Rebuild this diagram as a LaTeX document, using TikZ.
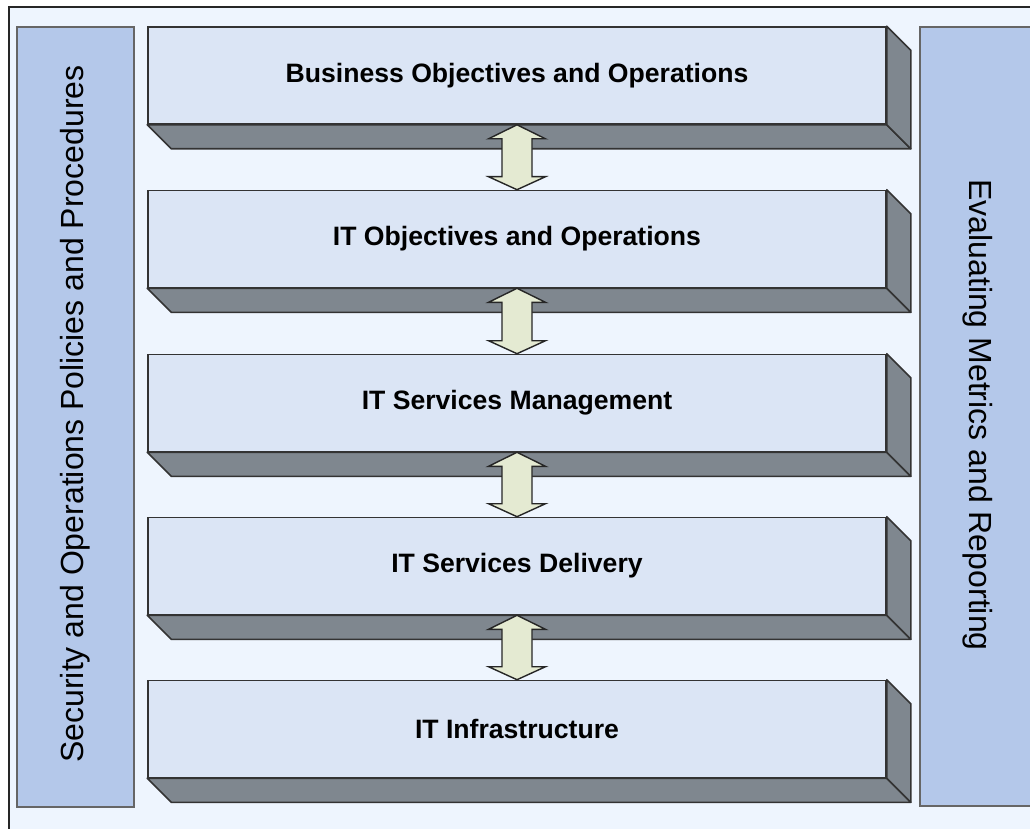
\documentclass[tikz,border=0pt]{standalone}
\usepackage{fontspec}
\setmainfont{Liberation Sans}
\usetikzlibrary{calc}

\definecolor{pagebg}{HTML}{EEF5FE}
\definecolor{panelblue}{HTML}{B4C8EA}
\definecolor{layerfront}{HTML}{DBE5F5}
\definecolor{layerside}{HTML}{7F878F}
\definecolor{linkfill}{HTML}{E4EAD2}

\begin{document}
\begin{tikzpicture}[x=1pt,y=-1pt,
  layer/.style={draw=black!80,line width=1.6pt,fill=layerfront,minimum width=738pt,minimum height=97pt,inner sep=0pt,font=\fontsize{26.6}{30}\selectfont\bfseries},
  side/.style={draw=black!80,line width=1.6pt,fill=layerside,line join=round},
  panel/.style={draw=black!60,line width=1.6pt,fill=panelblue},
  updown/.style={draw=black!85,line width=1.4pt,fill=linkfill,line join=miter}]
\useasboundingbox (0,0) rectangle (1030,829);
\clip (0,0) rectangle (1030,829);

% frame and background
\draw[fill=pagebg,draw=black!85,line width=2pt] (9,7) rectangle (1045,845);

% side panels
\draw[panel] (17,27) rectangle (134,807);
\draw[panel] (920,27) rectangle (1037,806);
\node[rotate=90,font=\fontsize{32}{36}\selectfont] (policies) at (75.5,414) {Security and Operations Policies and Procedures};
\node[rotate=-90,font=\fontsize{32}{36}\selectfont] (metrics) at (978,415) {Evaluating Metrics and Reporting};

% stack of layers
\node[layer] (business) at (517,75.5) {Business Objectives and Operations};
\node[layer] (itobj) at (517,239) {IT Objectives and Operations};
\node[layer] (itsm) at (517,403) {IT Services Management};
\node[layer] (itsd) at (517,566) {IT Services Delivery};
\node[layer] (infra) at (517,729) {IT Infrastructure};

% 3d edges (bottom and right faces)
\foreach \b in {business,itobj,itsm,itsd,infra}{
  \draw[side] (\b.south west) -- ++(24,24) -- ($(\b.south east)+(24,24)$) -- (\b.south east) -- cycle;
  \draw[side] (\b.north east) -- ++(24,24) -- ($(\b.south east)+(24,24)$) -- (\b.south east) -- cycle;
}

% links between layers (double arrows)
\foreach \a/\b in {business/itobj,itobj/itsm,itsm/itsd,itsd/infra}{
  \draw[updown] let \p1=(\a.south), \p2=(\b.north) in
    (\x1,\y1) -- (\x1+28.5pt,\y1-14pt) -- (\x1+15pt,\y1-14pt) -- (\x1+15pt,\y2+13pt)
    -- (\x1+28.5pt,\y2+13pt) -- (\x1,\y2) -- (\x1-28.5pt,\y2+13pt) -- (\x1-15pt,\y2+13pt)
    -- (\x1-15pt,\y1-14pt) -- (\x1-28.5pt,\y1-14pt) -- cycle;
}
\end{tikzpicture}
\end{document}
